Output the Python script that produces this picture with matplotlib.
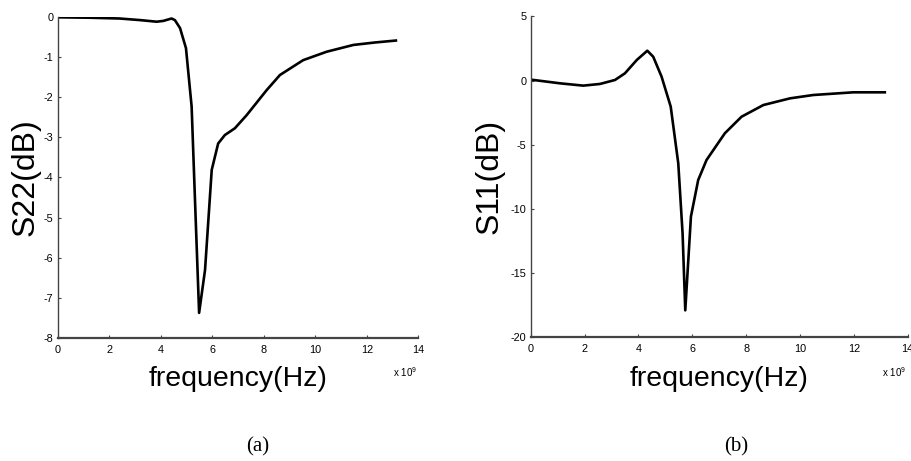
import matplotlib
matplotlib.use("Agg")
import matplotlib.pyplot as plt

plt.rcParams['font.family'] = ['Liberation Sans', 'DejaVu Sans']
plt.rcParams['mathtext.fontset'] = 'custom'
plt.rcParams['mathtext.rm'] = 'Liberation Sans'
plt.rcParams['mathtext.it'] = 'Liberation Sans'

# ---- data (frequency in GHz, later scaled by 1e9) ----
f_s22 = [0.0, 1.2, 2.4, 3.2, 3.84, 4.1, 4.42, 4.55, 4.75, 4.98, 5.2, 5.33, 5.49,
         5.72, 5.98, 6.23, 6.49, 6.88, 7.34, 8.11, 8.63, 9.53, 10.44, 11.48, 12.3, 13.13]
s22_db = [0.0, -0.01, -0.03, -0.07, -0.11, -0.09, -0.03, -0.07, -0.27, -0.77, -2.23, -4.56, -7.38,
          -6.31, -3.81, -3.15, -2.94, -2.77, -2.44, -1.82, -1.44, -1.07, -0.86, -0.69, -0.63, -0.58]

f_s11 = [0.07, 1.09, 1.95, 2.57, 3.13, 3.50, 3.94, 4.33, 4.55, 4.86, 5.20, 5.48, 5.64, 5.74,
         5.95, 6.22, 6.53, 7.21, 7.83, 8.64, 9.63, 10.49, 11.98, 13.15]
s11_db = [0.05, -0.22, -0.40, -0.27, 0.04, 0.56, 1.60, 2.32, 1.85, 0.30, -2.04, -6.45, -11.9, -17.9,
          -10.6, -7.75, -6.19, -4.11, -2.82, -1.91, -1.39, -1.13, -0.92, -0.92]

x_ticks = [0, 2, 4, 6, 8, 10, 12, 14]
y_ticks_a = [0, -1, -2, -3, -4, -5, -6, -7, -8]
y_ticks_b = [5, 0, -5, -10, -15, -20]

W, H = 912, 461
fig = plt.figure(figsize=(W / 100, H / 100), dpi=100)

def px_axes(x0, x1, y0, y1):
    return fig.add_axes([x0 / W, 1 - y1 / H, (x1 - x0) / W, (y1 - y0) / H])

ax_a = px_axes(57.7, 418.3, 17.3, 337.7)
ax_b = px_axes(530.7, 907.7, 16.3, 337.3)

spine_col = '#444444'

def style(ax, yticks, ylim, ylabel, ylab_x):
    ax.set_xlim(0, 14e9)
    ax.set_ylim(*ylim)
    ax.set_xticks([t * 1e9 for t in x_ticks])
    ax.set_xticklabels([str(t) for t in x_ticks])
    ax.set_yticks(yticks)
    ax.set_yticklabels([str(t) for t in yticks])
    for s in ('top', 'right'):
        ax.spines[s].set_visible(False)
    for s in ('left', 'bottom'):
        ax.spines[s].set_color(spine_col)
        ax.spines[s].set_linewidth(1.0)
    ax.spines['bottom'].set_linewidth(1.6)
    ax.tick_params(direction='in', length=2.5, width=0.8, color=spine_col,
                   labelsize=7.8, labelcolor='black')
    ax.tick_params(axis='x', pad=5)
    ax.tick_params(axis='y', pad=3)
    ax.set_xlabel('frequency(Hz)', fontsize=20.5, va='baseline')
    ax.xaxis.set_label_coords(0.5, -0.151)
    ax.set_ylabel(ylabel, fontsize=23, va='center')
    ax.yaxis.set_label_coords(ylab_x, 0.5)

ax_a.plot([f * 1e9 for f in f_s22], s22_db, color='black', lw=1.9)
style(ax_a, y_ticks_a, (-8, 0), 'S22(dB)', -0.088)

ax_b.plot([f * 1e9 for f in f_s11], s11_db, color='black', lw=1.9)
style(ax_b, y_ticks_b, (-20, 5), 'S11(dB)', -0.108)

fig.text(393 / W, 1 - 377 / H, 'x 10$^{9}$', fontsize=7, ha='left', va='baseline')
fig.text(882 / W, 1 - 377 / H, 'x 10$^{9}$', fontsize=7, ha='left', va='baseline')

fig.text(258 / W, 1 - 447 / H, '(a)', fontsize=15, ha='center', va='center',
         family='Liberation Serif')
fig.text(736 / W, 1 - 447 / H, '(b)', fontsize=15, ha='center', va='center',
         family='Liberation Serif')

fig.savefig('out.png', dpi=100)
